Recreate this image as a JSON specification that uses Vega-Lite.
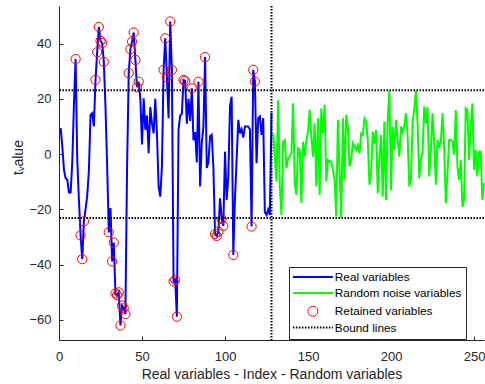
{
  "$schema": "https://vega.github.io/schema/vega-lite/v6.json",
  "width": 425,
  "height": 334,
  "autosize": {"type": "none"},
  "padding": {"left": 59, "top": 6, "right": 1, "bottom": 44},
  "background": "white",
  "config": {"view": {"stroke": null}, "font": "Liberation Sans"},
  "datasets": {
    "tv": [
      {"i":1,"t":9.4,"s":"Real variables"},{"i":2,"t":2.7,"s":"Real variables"},{"i":3,"t":-5.7,"s":"Real variables"},{"i":4,"t":-8.7,"s":"Real variables"},{"i":5,"t":-9.3,"s":"Real variables"},{"i":6,"t":-13.9,"s":"Real variables"},{"i":7,"t":-13.9,"s":"Real variables"},{"i":8,"t":-3,"s":"Real variables"},{"i":9,"t":18,"s":"Real variables"},{"i":10,"t":34.4,"s":"Real variables"},
      {"i":11,"t":-2,"s":"Real variables"},{"i":12,"t":-16.6,"s":"Real variables"},{"i":13,"t":-29.4,"s":"Real variables"},{"i":14,"t":-38,"s":"Real variables"},{"i":15,"t":-24.3,"s":"Real variables"},{"i":16,"t":-20,"s":"Real variables"},{"i":17,"t":-15,"s":"Real variables"},{"i":18,"t":-6,"s":"Real variables"},{"i":19,"t":14.2,"s":"Real variables"},{"i":20,"t":14.8,"s":"Real variables"},
      {"i":21,"t":10,"s":"Real variables"},{"i":22,"t":26.9,"s":"Real variables"},{"i":23,"t":36.9,"s":"Real variables"},{"i":24,"t":46,"s":"Real variables"},{"i":25,"t":41,"s":"Real variables"},{"i":26,"t":40.2,"s":"Real variables"},{"i":27,"t":33.4,"s":"Real variables"},{"i":28,"t":17,"s":"Real variables"},{"i":29,"t":-4,"s":"Real variables"},{"i":30,"t":-28.3,"s":"Real variables"},
      {"i":31,"t":-19.5,"s":"Real variables"},{"i":32,"t":-38.8,"s":"Real variables"},{"i":33,"t":-32,"s":"Real variables"},{"i":34,"t":-50.4,"s":"Real variables"},{"i":35,"t":-51,"s":"Real variables"},{"i":36,"t":-50,"s":"Real variables"},{"i":37,"t":-62,"s":"Real variables"},{"i":38,"t":-54.8,"s":"Real variables"},{"i":39,"t":-55.8,"s":"Real variables"},{"i":40,"t":-57.9,"s":"Real variables"},
      {"i":41,"t":-5,"s":"Real variables"},{"i":42,"t":29.3,"s":"Real variables"},{"i":43,"t":38,"s":"Real variables"},{"i":44,"t":40.7,"s":"Real variables"},{"i":45,"t":44,"s":"Real variables"},{"i":46,"t":34.1,"s":"Real variables"},{"i":47,"t":24.2,"s":"Real variables"},{"i":48,"t":26.2,"s":"Real variables"},{"i":49,"t":20,"s":"Real variables"},{"i":50,"t":3.5,"s":"Real variables"},
      {"i":51,"t":20.2,"s":"Real variables"},{"i":52,"t":8.8,"s":"Real variables"},{"i":53,"t":14,"s":"Real variables"},{"i":54,"t":0.3,"s":"Real variables"},{"i":55,"t":17,"s":"Real variables"},{"i":56,"t":11,"s":"Real variables"},{"i":57,"t":7.5,"s":"Real variables"},{"i":58,"t":20,"s":"Real variables"},{"i":59,"t":7.5,"s":"Real variables"},{"i":60,"t":-11.7,"s":"Real variables"},
      {"i":61,"t":-15.4,"s":"Real variables"},{"i":62,"t":-4.5,"s":"Real variables"},{"i":63,"t":30.5,"s":"Real variables"},{"i":64,"t":41.9,"s":"Real variables"},{"i":65,"t":27.8,"s":"Real variables"},{"i":66,"t":13,"s":"Real variables"},{"i":67,"t":48,"s":"Real variables"},{"i":68,"t":30.5,"s":"Real variables"},{"i":69,"t":-46.1,"s":"Real variables"},{"i":70,"t":-45.5,"s":"Real variables"},
      {"i":71,"t":-58.8,"s":"Real variables"},{"i":72,"t":8.8,"s":"Real variables"},{"i":73,"t":14,"s":"Real variables"},{"i":74,"t":14.5,"s":"Real variables"},{"i":75,"t":26.8,"s":"Real variables"},{"i":76,"t":26.5,"s":"Real variables"},{"i":77,"t":11,"s":"Real variables"},{"i":78,"t":20,"s":"Real variables"},{"i":79,"t":12,"s":"Real variables"},{"i":80,"t":23.8,"s":"Real variables"},
      {"i":81,"t":5,"s":"Real variables"},{"i":82,"t":8,"s":"Real variables"},{"i":83,"t":-3,"s":"Real variables"},{"i":84,"t":26.2,"s":"Real variables"},{"i":85,"t":-11.7,"s":"Real variables"},{"i":86,"t":4,"s":"Real variables"},{"i":87,"t":10,"s":"Real variables"},{"i":88,"t":35.1,"s":"Real variables"},{"i":89,"t":-5,"s":"Real variables"},{"i":90,"t":-3,"s":"Real variables"},
      {"i":91,"t":6.5,"s":"Real variables"},{"i":92,"t":7,"s":"Real variables"},{"i":93,"t":-5,"s":"Real variables"},{"i":94,"t":-28.9,"s":"Real variables"},{"i":95,"t":-29.6,"s":"Real variables"},{"i":96,"t":-28,"s":"Real variables"},{"i":97,"t":-16,"s":"Real variables"},{"i":98,"t":-23.5,"s":"Real variables"},{"i":99,"t":-26,"s":"Real variables"},{"i":100,"t":0.9,"s":"Real variables"},
      {"i":101,"t":-16.6,"s":"Real variables"},{"i":102,"t":-8,"s":"Real variables"},{"i":103,"t":17.2,"s":"Real variables"},{"i":104,"t":20.8,"s":"Real variables"},{"i":105,"t":-36.5,"s":"Real variables"},{"i":106,"t":-16,"s":"Real variables"},{"i":107,"t":-2,"s":"Real variables"},{"i":108,"t":12.4,"s":"Real variables"},{"i":109,"t":7.5,"s":"Real variables"},{"i":110,"t":9,"s":"Real variables"},
      {"i":111,"t":6,"s":"Real variables"},{"i":112,"t":10,"s":"Real variables"},{"i":113,"t":10,"s":"Real variables"},{"i":114,"t":10,"s":"Real variables"},{"i":115,"t":9,"s":"Real variables"},{"i":116,"t":-26.2,"s":"Real variables"},{"i":117,"t":30.5,"s":"Real variables"},{"i":118,"t":26.3,"s":"Real variables"},{"i":119,"t":-3.3,"s":"Real variables"},{"i":120,"t":13,"s":"Real variables"},
      {"i":121,"t":13.6,"s":"Real variables"},{"i":122,"t":7,"s":"Real variables"},{"i":123,"t":13,"s":"Real variables"},{"i":124,"t":-21,"s":"Real variables"},{"i":125,"t":-22,"s":"Real variables"},{"i":126,"t":-20,"s":"Real variables"},{"i":127,"t":-22,"s":"Real variables"},{"i":128,"t":15,"s":"Real variables"},
      {"i":129,"t":7.5,"s":"Random noise variables"},{"i":130,"t":-0.9,"s":"Random noise variables"},{"i":131,"t":-9.9,"s":"Random noise variables"},{"i":132,"t":19.6,"s":"Random noise variables"},{"i":133,"t":-11.7,"s":"Random noise variables"},{"i":134,"t":-22,"s":"Random noise variables"},{"i":135,"t":4.5,"s":"Random noise variables"},{"i":136,"t":5.1,"s":"Random noise variables"},{"i":137,"t":-5.1,"s":"Random noise variables"},{"i":138,"t":-1.5,"s":"Random noise variables"},
      {"i":139,"t":-0.9,"s":"Random noise variables"},{"i":140,"t":0.3,"s":"Random noise variables"},{"i":141,"t":18.4,"s":"Random noise variables"},{"i":142,"t":-10.5,"s":"Random noise variables"},{"i":143,"t":-14.8,"s":"Random noise variables"},{"i":144,"t":2.1,"s":"Random noise variables"},{"i":145,"t":1.5,"s":"Random noise variables"},{"i":146,"t":-17.8,"s":"Random noise variables"},{"i":147,"t":4.5,"s":"Random noise variables"},{"i":148,"t":-0.9,"s":"Random noise variables"},
      {"i":149,"t":5.1,"s":"Random noise variables"},{"i":150,"t":8.1,"s":"Random noise variables"},{"i":151,"t":16,"s":"Random noise variables"},{"i":152,"t":6.3,"s":"Random noise variables"},{"i":153,"t":-0.9,"s":"Random noise variables"},{"i":154,"t":11.2,"s":"Random noise variables"},{"i":155,"t":-11.7,"s":"Random noise variables"},{"i":156,"t":13,"s":"Random noise variables"},{"i":157,"t":-14.8,"s":"Random noise variables"},{"i":158,"t":16.6,"s":"Random noise variables"},
      {"i":159,"t":7.5,"s":"Random noise variables"},{"i":160,"t":17.8,"s":"Random noise variables"},{"i":161,"t":-9.9,"s":"Random noise variables"},{"i":162,"t":-2.1,"s":"Random noise variables"},{"i":163,"t":-2.7,"s":"Random noise variables"},{"i":164,"t":-2.7,"s":"Random noise variables"},{"i":165,"t":-5.7,"s":"Random noise variables"},{"i":166,"t":-9.3,"s":"Random noise variables"},{"i":167,"t":-22.6,"s":"Random noise variables"},{"i":168,"t":12.4,"s":"Random noise variables"},
      {"i":169,"t":-5.7,"s":"Random noise variables"},{"i":170,"t":-23,"s":"Random noise variables"},{"i":171,"t":13,"s":"Random noise variables"},{"i":172,"t":-9.3,"s":"Random noise variables"},{"i":173,"t":14.2,"s":"Random noise variables"},{"i":174,"t":10,"s":"Random noise variables"},{"i":175,"t":-4.5,"s":"Random noise variables"},{"i":176,"t":-2,"s":"Random noise variables"},{"i":177,"t":3.9,"s":"Random noise variables"},{"i":178,"t":2.7,"s":"Random noise variables"},
      {"i":179,"t":1.5,"s":"Random noise variables"},{"i":180,"t":3.3,"s":"Random noise variables"},{"i":181,"t":0.3,"s":"Random noise variables"},{"i":182,"t":7.5,"s":"Random noise variables"},{"i":183,"t":7,"s":"Random noise variables"},{"i":184,"t":13,"s":"Random noise variables"},{"i":185,"t":11.8,"s":"Random noise variables"},{"i":186,"t":5.1,"s":"Random noise variables"},{"i":187,"t":-11.1,"s":"Random noise variables"},{"i":188,"t":-7,"s":"Random noise variables"},
      {"i":189,"t":8.1,"s":"Random noise variables"},{"i":190,"t":3.9,"s":"Random noise variables"},{"i":191,"t":8.8,"s":"Random noise variables"},{"i":192,"t":-14.2,"s":"Random noise variables"},{"i":193,"t":-0.9,"s":"Random noise variables"},{"i":194,"t":7,"s":"Random noise variables"},{"i":195,"t":-15.4,"s":"Random noise variables"},{"i":196,"t":11.8,"s":"Random noise variables"},{"i":197,"t":-16.6,"s":"Random noise variables"},{"i":198,"t":12.4,"s":"Random noise variables"},
      {"i":199,"t":23,"s":"Random noise variables"},{"i":200,"t":-13,"s":"Random noise variables"},{"i":201,"t":10,"s":"Random noise variables"},{"i":202,"t":1.5,"s":"Random noise variables"},{"i":203,"t":12.4,"s":"Random noise variables"},{"i":204,"t":5.1,"s":"Random noise variables"},{"i":205,"t":-0.9,"s":"Random noise variables"},{"i":206,"t":10,"s":"Random noise variables"},{"i":207,"t":8,"s":"Random noise variables"},{"i":208,"t":10.5,"s":"Random noise variables"},
      {"i":209,"t":14.8,"s":"Random noise variables"},{"i":210,"t":6.3,"s":"Random noise variables"},{"i":211,"t":-11.7,"s":"Random noise variables"},{"i":212,"t":-9.3,"s":"Random noise variables"},{"i":213,"t":11.2,"s":"Random noise variables"},{"i":214,"t":16.6,"s":"Random noise variables"},{"i":215,"t":23,"s":"Random noise variables"},{"i":216,"t":11.2,"s":"Random noise variables"},{"i":217,"t":-8.7,"s":"Random noise variables"},{"i":218,"t":-2.1,"s":"Random noise variables"},
      {"i":219,"t":0.9,"s":"Random noise variables"},{"i":220,"t":17.2,"s":"Random noise variables"},{"i":221,"t":11,"s":"Random noise variables"},{"i":222,"t":17,"s":"Random noise variables"},{"i":223,"t":-8.1,"s":"Random noise variables"},{"i":224,"t":1.5,"s":"Random noise variables"},{"i":225,"t":14.8,"s":"Random noise variables"},{"i":226,"t":4,"s":"Random noise variables"},{"i":227,"t":-11.1,"s":"Random noise variables"},{"i":228,"t":5.1,"s":"Random noise variables"},
      {"i":229,"t":2.7,"s":"Random noise variables"},{"i":230,"t":4.5,"s":"Random noise variables"},{"i":231,"t":14.8,"s":"Random noise variables"},{"i":232,"t":2.7,"s":"Random noise variables"},{"i":233,"t":-17.8,"s":"Random noise variables"},{"i":234,"t":-7,"s":"Random noise variables"},{"i":235,"t":5.1,"s":"Random noise variables"},{"i":236,"t":5.1,"s":"Random noise variables"},{"i":237,"t":4.5,"s":"Random noise variables"},{"i":238,"t":-0.3,"s":"Random noise variables"},
      {"i":239,"t":16,"s":"Random noise variables"},{"i":240,"t":-4.5,"s":"Random noise variables"},{"i":241,"t":-9.3,"s":"Random noise variables"},{"i":242,"t":-2.1,"s":"Random noise variables"},{"i":243,"t":-19,"s":"Random noise variables"},{"i":244,"t":-16.6,"s":"Random noise variables"},{"i":245,"t":16.6,"s":"Random noise variables"},{"i":246,"t":16,"s":"Random noise variables"},{"i":247,"t":-2.1,"s":"Random noise variables"},{"i":248,"t":10,"s":"Random noise variables"},
      {"i":249,"t":18.4,"s":"Random noise variables"},{"i":250,"t":-5.7,"s":"Random noise variables"},{"i":251,"t":1.5,"s":"Random noise variables"},{"i":252,"t":-8.1,"s":"Random noise variables"},{"i":253,"t":0.9,"s":"Random noise variables"},{"i":254,"t":0.9,"s":"Random noise variables"},{"i":255,"t":-16.6,"s":"Random noise variables"},{"i":256,"t":-10.5,"s":"Random noise variables"}
    ],
    "hb": [{"b": 23.1}, {"b": -23.1}],
    "vb": [{"v": 128}]
  },
  "layer": [
    {
      "data": {"name": "tv"},
      "mark": {"type": "line", "strokeWidth": 2},
      "encoding": {
        "x": {"field": "i", "type": "quantitative",
          "scale": {"domain": [0, 256], "nice": false, "zero": false},
          "axis": {"values": [0, 50, 100, 150, 200, 250], "title": "Real variables - Index - Random variables",
            "grid": false, "tickSize": -4, "labelPadding": 14, "domainColor": "#262626", "tickColor": "#262626",
            "labelColor": "#262626", "labelFontSize": 13, "labelFont": "Liberation Sans", "labelFlush": false,
            "titleFont": "Liberation Sans", "titleFontSize": 14, "titleFontWeight": "normal", "titleColor": "#262626",
            "titleY": 38, "titleBaseline": "alphabetic", "domainWidth": 1, "tickWidth": 1}},
        "y": {"field": "t", "type": "quantitative",
          "scale": {"domain": [-67.25, 53.6], "nice": false, "zero": false},
          "axis": {"values": [-60, -40, -20, 0, 20, 40], "title": "tᵥalue",
            "grid": false, "tickSize": -4, "labelPadding": 12, "domainColor": "#262626", "tickColor": "#262626",
            "labelColor": "#262626", "labelFontSize": 13, "labelFont": "Liberation Sans", "labelFlush": false,
            "titleFont": "Liberation Sans", "titleFontSize": 14, "titleFontWeight": "normal", "titleColor": "#262626",
            "titleAngle": 270, "titleX": -37, "titleY": 151, "titleAlign": "center", "titleBaseline": "alphabetic",
            "domainWidth": 1, "tickWidth": 1}},
        "color": {"field": "s", "type": "nominal",
          "scale": {"domain": ["Real variables", "Random noise variables", "Retained variables", "Bound lines"],
                    "range": ["#0000ff", "#00ff00", "#ff0000", "#000000"]},
          "legend": {"title": null, "orient": "none", "legendX": 230, "legendY": 261, "padding": 4,
            "fillColor": "white", "strokeColor": "#262626", "labelFont": "Liberation Sans", "labelFontSize": 11.8,
            "labelColor": "#000000", "symbolSize": 100, "symbolOffset": -6, "labelOffset": 36, "rowPadding": 3.2,
            "symbolStrokeWidth": 2,
            "encode": {"symbols": {"update": {
              "shape": {"signal": "datum.value === 'Retained variables' ? 'M5,0A1,1,0,1,1,3,0A1,1,0,1,1,5,0Z' : 'M0,0H8'"},
              "strokeDash": {"signal": "datum.value === 'Bound lines' ? [1.5, 1.5] : [40, 0]"},
              "strokeWidth": {"signal": "datum.value === 'Retained variables' ? 1 : 2"},
              "fill": {"value": "transparent"},
              "stroke": {"signal": "scale('color', datum.value)"},
              "opacity": {"value": 1}
            }}}}}
      }
    },
    {
      "data": {"name": "tv"},
      "transform": [{"filter": "datum.s === 'Real variables' && abs(datum.t) > 23.1"}],
      "mark": {"type": "point", "shape": "circle", "filled": false, "size": 85, "strokeWidth": 1, "opacity": 1},
      "encoding": {
        "x": {"field": "i", "type": "quantitative"},
        "y": {"field": "t", "type": "quantitative"},
        "color": {"datum": "Retained variables", "type": "nominal"}
      }
    },
    {
      "data": {"name": "hb"},
      "mark": {"type": "rule", "strokeDash": [1.5, 1.5], "strokeWidth": 2},
      "encoding": {
        "y": {"field": "b", "type": "quantitative"},
        "color": {"datum": "Bound lines", "type": "nominal"}
      }
    },
    {
      "data": {"name": "vb"},
      "mark": {"type": "rule", "strokeDash": [1.5, 1.5], "strokeWidth": 2},
      "encoding": {
        "x": {"field": "v", "type": "quantitative"},
        "color": {"datum": "Bound lines", "type": "nominal"}
      }
    }
  ]
}
